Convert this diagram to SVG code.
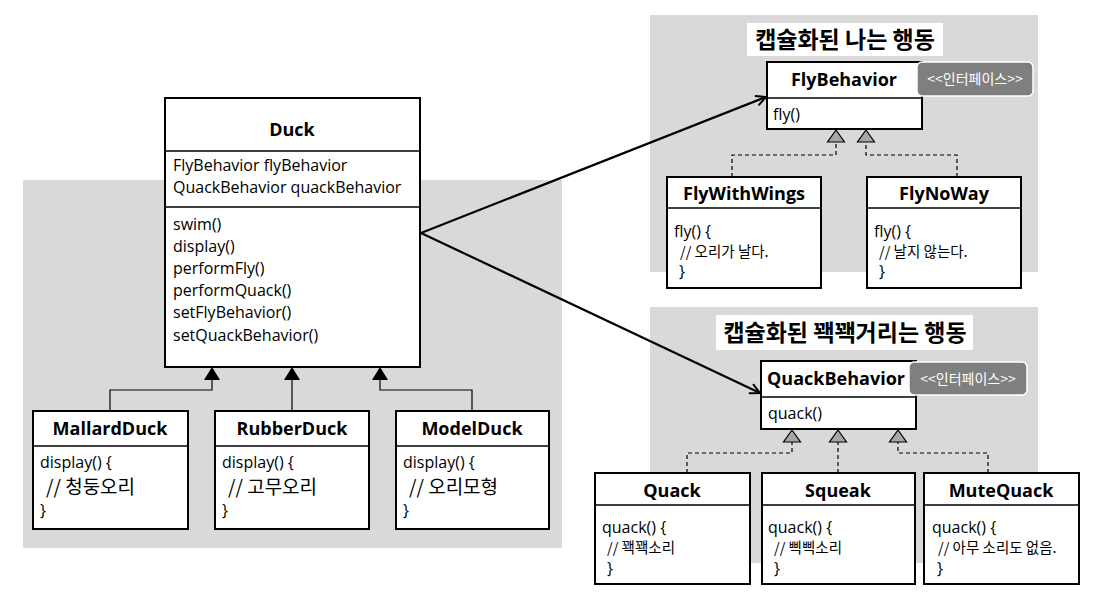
<svg xmlns="http://www.w3.org/2000/svg" width="1093" height="606" viewBox="0 0 1093 606">
<defs>
<style>
text{font-family:"Open Sans","Noto Sans CJK KR",sans-serif;fill:#000}
.panel{fill:#d9d9d9}
.box{fill:#fff;stroke:#000;stroke-width:2}
.div{stroke:#000;stroke-width:1.5}
.ttl{font-weight:bold;font-size:18px;text-anchor:middle}
.big{font-weight:bold;font-size:23px;text-anchor:middle;font-family:"Noto Sans CJK KR",sans-serif}
.m{font-size:16px}
.c{font-size:14.5px;font-family:"Noto Sans CJK KR",sans-serif}
.ck{font-size:19px;font-family:"Noto Sans CJK KR",sans-serif}
.badge{fill:#7f7f7f;stroke:#fff;stroke-width:1.5}
.bt{fill:#fff;font-size:14px;text-anchor:middle;font-family:"Noto Sans CJK KR",sans-serif}
.inh{fill:none;stroke:#000;stroke-width:1.2}
.impl{fill:none;stroke:#000;stroke-width:1.2;stroke-dasharray:4 3}
.tri{fill:#000}
.htri{fill:#a6a6a6;stroke:#000;stroke-width:1.2}
.assoc{fill:none;stroke:#000;stroke-width:2.2}
</style>
<marker id="open" viewBox="0 0 12 12" refX="11" refY="6" markerWidth="12" markerHeight="12" markerUnits="userSpaceOnUse" orient="auto">
<path d="M1,1 L11,6 L1,11" fill="none" stroke="#000" stroke-width="2"/>
</marker>
</defs>

<g id="panels">
<rect class="panel" x="23" y="180" width="539" height="368"/>
<rect class="panel" x="650" y="15" width="388" height="257"/>
<rect class="panel" x="650" y="307" width="388" height="256"/>
</g>

<g id="title-fly">
<rect x="747" y="23" width="196" height="33" fill="#fff"/>
<text class="big" x="845" y="48">캡슐화된 나는 행동</text>
</g>
<g id="title-quack">
<rect x="716" y="315" width="257" height="35" fill="#fff"/>
<text class="big" x="845" y="341">캡슐화된 꽥꽥거리는 행동</text>
</g>

<g id="connectors">
<path class="inh" d="M110,411 V390 H212 V380"/>
<path class="inh" d="M292,411 V380"/>
<path class="inh" d="M472,411 V390 H380 V380"/>
<path class="tri" d="M212,367 L220,380 L204,380 Z"/>
<path class="tri" d="M292,367 L300,380 L284,380 Z"/>
<path class="tri" d="M380,367 L388,380 L372,380 Z"/>

<path class="impl" d="M732,177 V155 H836 V142"/>
<path class="impl" d="M957,177 V155 H866 V142"/>
<path class="htri" d="M836,130 L844.5,142 L827.5,142 Z"/>
<path class="htri" d="M866,130 L874.5,142 L857.5,142 Z"/>

<path class="impl" d="M687,473 V453 H792 V442"/>
<path class="impl" d="M838,473 V442"/>
<path class="impl" d="M988,473 V453 H898 V442"/>
<path class="htri" d="M792,430 L800.5,442 L783.5,442 Z"/>
<path class="htri" d="M838,430 L846.5,442 L829.5,442 Z"/>
<path class="htri" d="M898,430 L906.5,442 L889.5,442 Z"/>

<path class="assoc" d="M421,233 L766,97" marker-end="url(#open)"/>
<path class="assoc" d="M421,233 L760,393" marker-end="url(#open)"/>
</g>

<g id="Duck">
<rect class="box" x="165" y="98" width="255" height="269"/>
<line class="div" x1="165" y1="151" x2="420" y2="151"/>
<line class="div" x1="165" y1="207" x2="420" y2="207"/>
<text class="ttl" x="292" y="136">Duck</text>
<text class="m" x="173" y="171">FlyBehavior flyBehavior</text>
<text class="m" x="173" y="193">QuackBehavior quackBehavior</text>
<text class="m" x="173" y="230">swim()</text>
<text class="m" x="173" y="252">display()</text>
<text class="m" x="173" y="274">performFly()</text>
<text class="m" x="173" y="296">performQuack()</text>
<text class="m" x="173" y="318">setFlyBehavior()</text>
<text class="m" x="173" y="341">setQuackBehavior()</text>
</g>

<g id="MallardDuck">
<rect class="box" x="33" y="411" width="155" height="118"/>
<line class="div" x1="33" y1="446" x2="188" y2="446"/>
<text class="ttl" x="110" y="435">MallardDuck</text>
<text class="m" x="40" y="468">display() {</text>
<text class="ck" x="46" y="494">// 청둥오리</text>
<text class="m" x="40" y="516">}</text>
</g>

<g id="RubberDuck">
<rect class="box" x="215" y="411" width="154" height="118"/>
<line class="div" x1="215" y1="446" x2="369" y2="446"/>
<text class="ttl" x="292" y="435">RubberDuck</text>
<text class="m" x="222" y="468">display() {</text>
<text class="ck" x="228" y="494">// 고무오리</text>
<text class="m" x="222" y="516">}</text>
</g>

<g id="ModelDuck">
<rect class="box" x="396" y="411" width="153" height="118"/>
<line class="div" x1="396" y1="446" x2="549" y2="446"/>
<text class="ttl" x="472" y="435">ModelDuck</text>
<text class="m" x="403" y="468">display() {</text>
<text class="ck" x="409" y="494">// 오리모형</text>
<text class="m" x="403" y="516">}</text>
</g>

<g id="FlyBehavior">
<rect class="box" x="767" y="62" width="155" height="67"/>
<line class="div" x1="767" y1="98" x2="922" y2="98"/>
<text class="ttl" x="844" y="86">FlyBehavior</text>
<text class="m" x="773" y="120">fly()</text>
<rect class="badge" x="917" y="62" width="116" height="34" rx="5"/>
<text class="bt" x="975" y="84">&lt;&lt;인터페이스&gt;&gt;</text>
</g>

<g id="FlyWithWings">
<rect class="box" x="667" y="177" width="154" height="111"/>
<line class="div" x1="667" y1="208" x2="821" y2="208"/>
<text class="ttl" x="744" y="200">FlyWithWings</text>
<text class="m" x="674" y="237">fly() {</text>
<text class="c" x="680" y="257">// 오리가 날다.</text>
<text class="m" x="679" y="277">}</text>
</g>

<g id="FlyNoWay">
<rect class="box" x="867" y="177" width="154" height="111"/>
<line class="div" x1="867" y1="208" x2="1021" y2="208"/>
<text class="ttl" x="944" y="200">FlyNoWay</text>
<text class="m" x="874" y="237">fly() {</text>
<text class="c" x="879" y="257">// 날지 않는다.</text>
<text class="m" x="879" y="277">}</text>
</g>

<g id="QuackBehavior">
<rect class="box" x="761" y="361" width="155" height="68"/>
<line class="div" x1="761" y1="397" x2="916" y2="397"/>
<text class="ttl" x="836" y="385">QuackBehavior</text>
<text class="m" x="768" y="419">quack()</text>
<rect class="badge" x="909" y="362" width="118" height="33" rx="5"/>
<text class="bt" x="968" y="384">&lt;&lt;인터페이스&gt;&gt;</text>
</g>

<g id="Quack">
<rect class="box" x="595" y="473" width="155" height="111"/>
<line class="div" x1="595" y1="505" x2="750" y2="505"/>
<text class="ttl" x="672" y="497">Quack</text>
<text class="m" x="602" y="533">quack() {</text>
<text class="c" x="607" y="553">// 꽥꽥소리</text>
<text class="m" x="607" y="574">}</text>
</g>

<g id="Squeak">
<rect class="box" x="762" y="473" width="153" height="111"/>
<line class="div" x1="762" y1="505" x2="915" y2="505"/>
<text class="ttl" x="838" y="497">Squeak</text>
<text class="m" x="768" y="533">quack() {</text>
<text class="c" x="774" y="553">// 삑삑소리</text>
<text class="m" x="774" y="574">}</text>
</g>

<g id="MuteQuack">
<rect class="box" x="924" y="473" width="155" height="111"/>
<line class="div" x1="924" y1="505" x2="1079" y2="505"/>
<text class="ttl" x="1001" y="497">MuteQuack</text>
<text class="m" x="932" y="533">quack() {</text>
<text class="c" x="938" y="553">// 아무 소리도 없음.</text>
<text class="m" x="937" y="574">}</text>
</g>
</svg>
